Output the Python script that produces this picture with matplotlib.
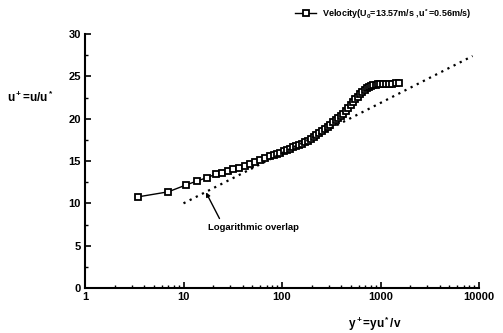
import numpy as np
import matplotlib.pyplot as plt
from matplotlib.ticker import MultipleLocator, LogLocator, NullFormatter, FixedFormatter

plt.rcParams['font.family'] = ['Liberation Sans', 'DejaVu Sans']
plt.rcParams['mathtext.fontset'] = 'custom'
plt.rcParams['mathtext.rm'] = 'Liberation Sans:bold'
plt.rcParams['mathtext.it'] = 'Liberation Sans:bold'
plt.rcParams['font.weight'] = 'bold'

# measured profile (wall units)
y_plus = [3.48, 7.0, 10.5, 13.8, 17.5, 21.2, 24.4, 28.5, 32, 36.8, 42, 47.3,
          53.2, 59.8, 67.2, 75.5, 82, 89, 96, 104, 112, 121, 130, 140, 150,
          161, 172, 184, 197, 210, 224, 239, 255, 272, 290, 309, 329, 350,
          372, 395, 419, 444, 470, 497, 525, 555, 586, 618, 652, 688, 725,
          764, 805, 848, 893, 940, 990, 1067, 1150, 1230, 1300, 1420, 1543]
u_plus = [10.77, 11.36, 12.15, 12.65, 13.05, 13.44, 13.55, 13.8, 14.0, 14.2,
          14.4, 14.6, 14.85, 15.1, 15.3, 15.55, 15.7, 15.85, 16.0, 16.15, 16.3,
          16.45, 16.6, 16.75, 16.9, 17.05, 17.2, 17.4, 17.6, 17.8, 18.05, 18.3,
          18.55, 18.8, 19.05, 19.3, 19.55, 19.8, 20.05, 20.3, 20.6, 20.9,
          21.25, 21.6, 21.95, 22.3, 22.6, 22.9, 23.15, 23.4, 23.6, 23.75,
          23.85, 23.95, 24.0, 24.05, 24.1, 24.1, 24.1, 24.15, 24.15, 24.2, 24.25]

# log-law line end points
log_y = [10, 8600]
log_u = [10.0, 27.4]

x_ticks = [1, 10, 100, 1000, 10000]
x_labels = ['1', '10', '100', '1000', '10000']

fig = plt.figure(figsize=(5.03, 3.33), dpi=100)
ax = fig.add_axes([85/503, 1 - 288/333, 394/503, 254/333])

ax.plot(y_plus, u_plus, 'k-', lw=1.0, marker='s', ms=4, mfc='white',
        mec='black', mew=1.3, label='Velocity(U$_0$=13.57m/s ,u$^*$=0.56m/s)')
ax.plot(log_y, log_u, color='black', lw=1.6, linestyle=(0, (1, 2.1)))

ax.annotate('Logarithmic overlap', xy=(16.9, 11.3), xytext=(17.7, 7.2),
            fontsize=6.8, fontweight='bold', ha='left', va='center',
            arrowprops=dict(arrowstyle='-|>', color='black', lw=1.0,
                            mutation_scale=6, shrinkA=1, shrinkB=0,
                            relpos=(0.15, 1.0)))

ax.set_xscale('log')
ax.set_xlim(1, 10000)
ax.set_ylim(0, 30)
ax.set_xticks(x_ticks)
ax.xaxis.set_major_formatter(FixedFormatter(x_labels))
ax.xaxis.set_minor_locator(LogLocator(base=10, subs=np.arange(2, 10)))
ax.xaxis.set_minor_formatter(NullFormatter())
ax.yaxis.set_major_locator(MultipleLocator(5))
ax.yaxis.set_minor_locator(MultipleLocator(2.5))

for s in ['top', 'right']:
    ax.spines[s].set_visible(False)
for s in ['left', 'bottom']:
    ax.spines[s].set_linewidth(1.5)

ax.tick_params(which='major', direction='in', length=4, width=1.2, labelsize=8, pad=3)
ax.tick_params(which='minor', direction='in', length=2.5, width=1.0)
for lab in ax.get_xticklabels() + ax.get_yticklabels():
    lab.set_fontweight('bold')

ax.set_xlabel('y$^+$=yu$^*$/v', fontsize=8.5, fontweight='bold')
ax.xaxis.set_label_coords(0.735, -0.105)
ax.set_ylabel('u$^+$=u/u$^*$', fontsize=8.5, rotation=0, fontweight='bold')
ax.yaxis.set_label_coords(-0.14, 0.72)

ax.legend(loc='center right', bbox_to_anchor=(0.99, 1.08), frameon=False,
          prop={'size': 6.5, 'weight': 'bold'}, handlelength=2.4,
          handletextpad=0.6, borderaxespad=0)

fig.savefig('out.png', dpi=100)
